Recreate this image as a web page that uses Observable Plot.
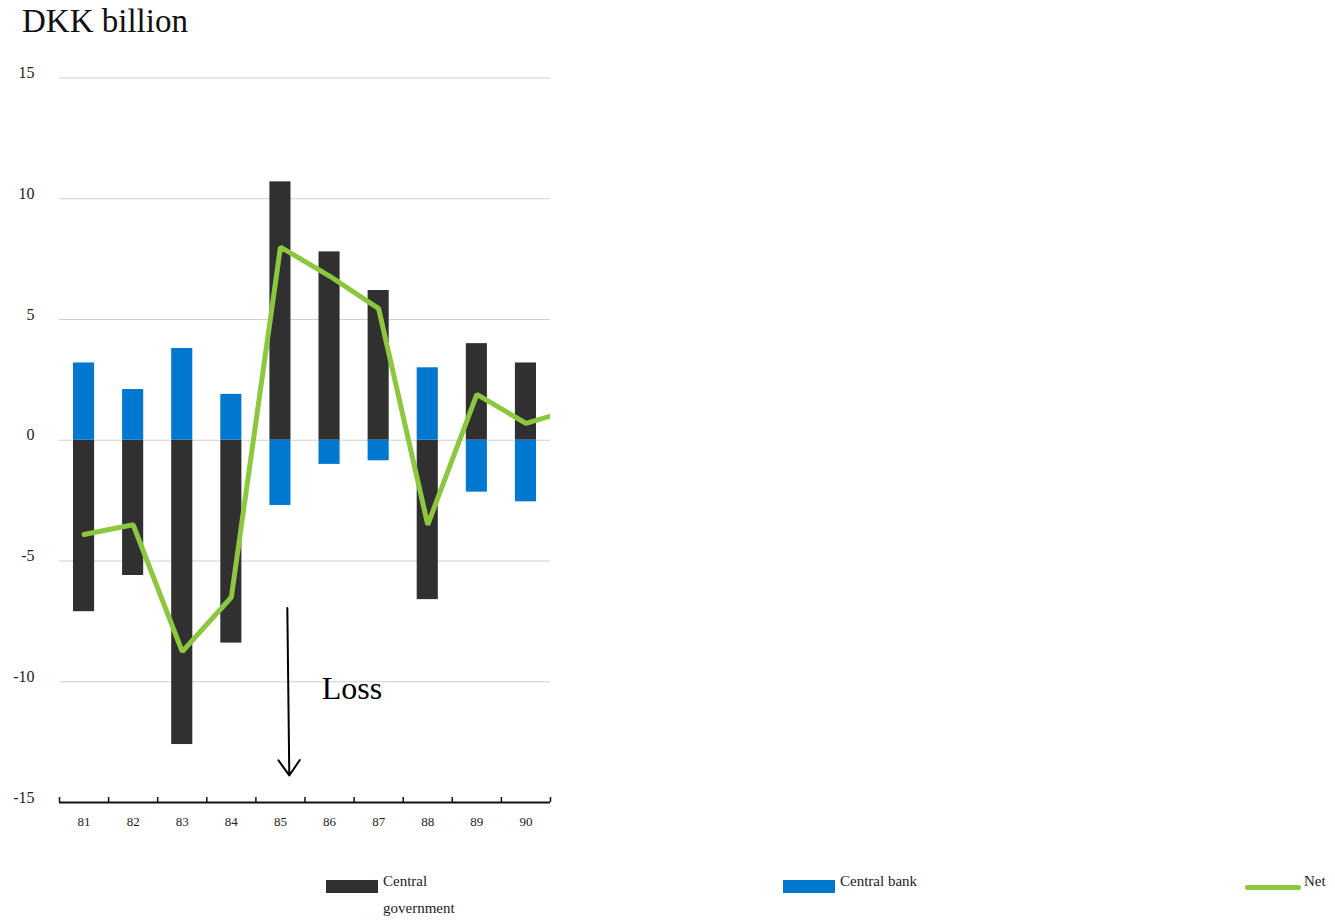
<!DOCTYPE html>
<html>
<head>
<meta charset="utf-8">
<script src="https://cdn.jsdelivr.net/npm/d3@7"></script>
<script src="https://cdn.jsdelivr.net/npm/@observablehq/plot@0.6"></script>
<style>
  body { margin: 0; background: #fff; font-family: "Liberation Serif", serif; }
  #page { position: relative; width: 1335px; height: 923px; overflow: hidden; background: #fff; }
  #title { position: absolute; left: 22px; top: 3px; font-size: 33px; color: #111; white-space: nowrap; }
  #chart { position: absolute; left: 0; top: 50px; }
  .sw { position: absolute; }
  .lg { position: absolute; font-size: 15px; line-height: 27px; color: #222; }
</style>
</head>
<body>
<div id="page">
  <div id="title">DKK billion</div>
  <div id="chart"></div>
  <div id="legend"></div>
</div>
<script>
// ---- data ----
const years = [81, 82, 83, 84, 85, 86, 87, 88, 89, 90];
const centralGovernment = [-7.1, -5.6, -12.6, -8.4, 10.7, 7.8, 6.2, -6.6, 4.0, 3.2];
const centralBank = [3.2, 2.1, 3.8, 1.9, -2.7, -1.0, -0.85, 3.0, -2.15, -2.55];
const netYears = [81, 82, 83, 84, 85, 86, 87, 88, 89, 90, 91];
const netValues = [-3.9, -3.5, -8.75, -6.5, 8.0, 6.8, 5.45, -3.5, 1.9, 0.7, 1.3];
const yTicks = [15, 10, 5, 0, -5, -10, -15];
const gridValues = [15, 10, 5, 0, -5, -10];
const seriesNames = ["Central government", "Central bank", "Net"];
const seriesColors = ["#303030", "#0078d0", "#8dc63f"];
const annotationLabel = ["Loss"];
const annotationLabelYear = [85.84];
const annotationLabelValue = [-10.3];
const arrowFrom = [85.14, -6.95];
const arrowTo = [85.18, -13.88];

// ---- tables ----
const govData = years.map((y, i) => ({year: y, value: centralGovernment[i]}));
const bankData = years.map((y, i) => ({year: y, value: centralBank[i]}));
const netData = netYears.map((y, i) => ({year: y, value: netValues[i]}));
const boundaries = [years[0] - 0.5, ...years.map(y => y + 0.5)];
const labelData = annotationLabel.map((t, i) => ({text: t, year: annotationLabelYear[i], value: annotationLabelValue[i]}));
const arrowData = [{x1: arrowFrom[0], y1: arrowFrom[1], x2: arrowTo[0], y2: arrowTo[1]}];

const chart = Plot.plot({
  width: 560,
  height: 800,
  marginLeft: 59,
  marginRight: 10,
  marginTop: 27.5,
  marginBottom: 48,
  style: {fontFamily: "Liberation Serif, serif", background: "white", color: "#222"},
  x: {type: "linear", domain: [80.5, 90.5], axis: null},
  y: {domain: [-15, 15], axis: null},
  marks: [
    Plot.ruleY(gridValues, {stroke: "#d0d0d0", strokeWidth: 1.2}),
    Plot.rect(govData, {x1: d => d.year - 0.5, x2: d => d.year + 0.5, y1: 0, y2: "value", fill: seriesColors[0], insetLeft: 14, insetRight: 14}),
    Plot.rect(bankData, {x1: d => d.year - 0.5, x2: d => d.year + 0.5, y1: 0, y2: "value", fill: seriesColors[1], insetLeft: 14, insetRight: 14}),
    Plot.line(netData, {x: "year", y: "value", stroke: seriesColors[2], strokeWidth: 5, clip: true, strokeLinejoin: "miter", strokeLinecap: "round"}),
    Plot.ruleY([-15], {stroke: "#111", strokeWidth: 2}),
    Plot.ruleX(boundaries, {y1: -15, y2: -15, insetTop: -5, stroke: "#111", strokeWidth: 1.5}),
    Plot.axisY(yTicks, {tickSize: 0, tickPadding: 25, tickFormat: d => String(d), fontSize: 16, dy: -5, fill: "#222"}),
    Plot.axisX(years, {tickSize: 0, tickPadding: 14, tickFormat: d => String(d), fontSize: 13, fill: "#222"}),
    Plot.arrow(arrowData, {x1: "x1", y1: "y1", x2: "x2", y2: "y2", stroke: "#000", strokeWidth: 2, headLength: 14, headAngle: 70}),
    Plot.text(labelData, {x: "year", y: "value", text: "text", fontSize: 32, textAnchor: "start", lineAnchor: "middle", fill: "#000"})
  ]
});
document.getElementById("chart").appendChild(chart);

// ---- legend ----
const legend = document.getElementById("legend");
const legendItems = [
  {swLeft: 326, swTop: 880, swW: 52, swH: 13, radius: 0, txtLeft: 383, txtWidth: 70},
  {swLeft: 783, swTop: 880, swW: 52, swH: 13, radius: 0, txtLeft: 840, txtWidth: 120},
  {swLeft: 1245, swTop: 885, swW: 56, swH: 5, radius: 3, txtLeft: 1304, txtWidth: 40}
];
legendItems.forEach((it, i) => {
  const sw = document.createElement("div");
  sw.className = "sw";
  Object.assign(sw.style, {left: it.swLeft + "px", top: it.swTop + "px", width: it.swW + "px", height: it.swH + "px", background: seriesColors[i], borderRadius: it.radius + "px"});
  legend.appendChild(sw);
  const t = document.createElement("div");
  t.className = "lg";
  t.textContent = seriesNames[i];
  Object.assign(t.style, {left: it.txtLeft + "px", top: "868px", width: it.txtWidth + "px"});
  legend.appendChild(t);
});
</script>
</body>
</html>
